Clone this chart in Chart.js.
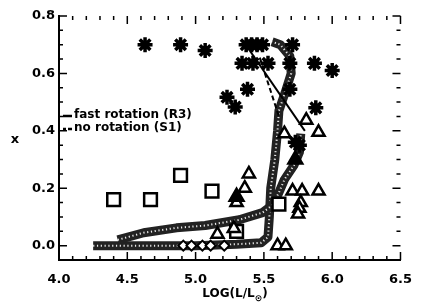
<!DOCTYPE html>
<html>
<head>
<meta charset="utf-8">
<script src="https://cdn.jsdelivr.net/npm/chart.js@4.4.1/dist/chart.umd.min.js"></script>
<style>
  html, body { margin: 0; padding: 0; background: #fff; }
  #wrap { width: 424px; height: 305px; }
</style>
</head>
<body>
<div id="wrap"><canvas id="grafico" width="424" height="305"></canvas></div>
<script>
// tick labels
const xTicks = [4.0, 4.5, 5.0, 5.5, 6.0, 6.5]
const yTicks = [0.0, 0.2, 0.4, 0.6, 0.8]

// asterisks
const estrellas = [
  {x: 4.63, y: 0.70}, {x: 4.89, y: 0.70}, {x: 5.07, y: 0.68},
  {x: 5.37, y: 0.70}, {x: 5.41, y: 0.70}, {x: 5.45, y: 0.70}, {x: 5.49, y: 0.70},
  {x: 5.71, y: 0.70},
  {x: 5.34, y: 0.635}, {x: 5.42, y: 0.635}, {x: 5.53, y: 0.635}, {x: 5.69, y: 0.635},
  {x: 5.87, y: 0.635}, {x: 6.00, y: 0.61},
  {x: 5.38, y: 0.545}, {x: 5.69, y: 0.545}, {x: 5.23, y: 0.517}, {x: 5.29, y: 0.483},
  {x: 5.88, y: 0.48}, {x: 5.73, y: 0.36}, {x: 5.76, y: 0.35}
]

// open triangles
const triangulos = [
  {x: 5.81, y: 0.437}, {x: 5.90, y: 0.395}, {x: 5.65, y: 0.39},
  {x: 5.39, y: 0.25}, {x: 5.36, y: 0.20}, {x: 5.30, y: 0.15},
  {x: 5.71, y: 0.19}, {x: 5.78, y: 0.19}, {x: 5.90, y: 0.19},
  {x: 5.77, y: 0.15}, {x: 5.76, y: 0.13}, {x: 5.75, y: 0.11},
  {x: 5.28, y: 0.06}, {x: 5.16, y: 0.04},
  {x: 5.60, y: 0.0}, {x: 5.66, y: 0.0}
]

// filled triangles
const triangulosLlenos = [
  {x: 5.73, y: 0.30}, {x: 5.30, y: 0.17}
]

// open squares
const cuadrados = [
  {x: 4.40, y: 0.16}, {x: 4.67, y: 0.16}, {x: 4.89, y: 0.245},
  {x: 5.12, y: 0.19}, {x: 5.30, y: 0.05}, {x: 5.61, y: 0.145}
]

// small diamonds on the zero line
const rombos = [
  {x: 4.91, y: 0.0}, {x: 4.97, y: 0.0}, {x: 5.05, y: 0.0},
  {x: 5.11, y: 0.0}, {x: 5.21, y: 0.0}
]

// thick dotted tracks
const trazaBaja = [
  {x: 4.25, y: 0.0}, {x: 4.6, y: 0.0}, {x: 5.0, y: 0.0}, {x: 5.3, y: 0.005},
  {x: 5.48, y: 0.01}, {x: 5.53, y: 0.03}, {x: 5.54, y: 0.1}, {x: 5.55, y: 0.2},
  {x: 5.58, y: 0.3}, {x: 5.60, y: 0.40}, {x: 5.61, y: 0.47}, {x: 5.66, y: 0.54},
  {x: 5.70, y: 0.60}, {x: 5.69, y: 0.66}, {x: 5.62, y: 0.70}, {x: 5.56, y: 0.71}
]
const trazaAlta = [
  {x: 4.43, y: 0.02}, {x: 4.62, y: 0.045}, {x: 4.86, y: 0.062}, {x: 5.07, y: 0.07},
  {x: 5.32, y: 0.09}, {x: 5.49, y: 0.115}, {x: 5.56, y: 0.14}, {x: 5.61, y: 0.185},
  {x: 5.65, y: 0.23}, {x: 5.72, y: 0.28}, {x: 5.76, y: 0.325}, {x: 5.77, y: 0.39}
]

// thin model lines
const rotacionRapida = [{x: 5.36, y: 0.705}, {x: 5.80, y: 0.40}]
const sinRotacion = [{x: 5.47, y: 0.655}, {x: 5.61, y: 0.45}]

const fuente = '"DejaVu Sans", "Liberation Sans", sans-serif'

// IDL-style inward ticks on all four sides, legend and axis titles
const decoraciones = {
  id: 'decoraciones',
  afterDraw(chart) {
    const c = chart.ctx
    const a = chart.chartArea
    const sx = chart.scales.x
    const sy = chart.scales.y
    c.save()
    c.strokeStyle = '#000'
    c.lineWidth = 1.5
    for (let i = 0; i <= 25; i++) {
      const v = 4 + i * 0.1
      const px = sx.getPixelForValue(v)
      const len = (i % 5 === 0) ? 8 : 4
      c.beginPath()
      c.moveTo(px, a.bottom); c.lineTo(px, a.bottom - len)
      c.moveTo(px, a.top); c.lineTo(px, a.top + len)
      c.stroke()
    }
    for (let i = -1; i <= 16; i++) {
      const v = i * 0.05
      const py = sy.getPixelForValue(v)
      const len = (i % 4 === 0) ? 8 : 4
      c.beginPath()
      c.moveTo(a.left, py); c.lineTo(a.left + len, py)
      c.moveTo(a.right, py); c.lineTo(a.right - len, py)
      c.stroke()
    }

    // legend
    c.fillStyle = '#000'
    c.font = 'bold 12px ' + fuente
    c.textBaseline = 'middle'
    c.lineWidth = 2.5
    c.beginPath(); c.moveTo(63, 116); c.lineTo(72, 116); c.stroke()
    c.fillText('fast rotation (R3)', 74, 115)
    c.beginPath()
    c.moveTo(63, 129); c.lineTo(66, 129)
    c.moveTo(68, 129); c.lineTo(72, 129)
    c.stroke()
    c.fillText('no rotation (S1)', 74, 128)

    // y title
    c.font = 'bold 13px ' + fuente
    c.textAlign = 'center'
    c.fillText('x', 15, 140)

    // x title with subscript sun
    c.font = 'bold 12px ' + fuente
    c.textAlign = 'left'
    c.textBaseline = 'alphabetic'
    const p1 = 'LOG(L/L'
    const w1 = c.measureText(p1).width
    c.font = 'bold 9px ' + fuente
    const w2 = c.measureText('⊙').width
    c.font = 'bold 12px ' + fuente
    const w3 = c.measureText(')').width
    let x0 = 235 - (w1 + w2 + w3) / 2
    c.fillText(p1, x0, 297)
    c.font = 'bold 9px ' + fuente
    c.fillText('⊙', x0 + w1, 301)
    c.font = 'bold 12px ' + fuente
    c.fillText(')', x0 + w1 + w2, 297)
    c.restore()
  }
}

function marca(datos, estilo, radio, relleno, grosor, orden) {
  return {
    type: 'scatter',
    data: datos,
    order: orden,
    pointStyle: estilo,
    pointRadius: radio,
    pointBackgroundColor: relleno,
    pointBorderColor: '#000',
    pointBorderWidth: grosor,
    showLine: false
  }
}

function traza(datos, color, ancho, guion, orden) {
  return {
    type: 'line',
    data: datos,
    order: orden,
    borderColor: color,
    borderWidth: ancho,
    borderDash: guion,
    pointRadius: 0,
    tension: 0,
    borderJoinStyle: 'round',
    borderCapStyle: 'butt',
    fill: false
  }
}

const ctx = document.getElementById('grafico')

// lower order is painted on top
new Chart(ctx, {
  data: {
    datasets: [
      traza(trazaBaja, '#222', 9, [], 10),
      traza(trazaBaja, 'rgba(255,255,255,0.9)', 2, [1.2, 2.6], 9),
      traza(trazaAlta, '#222', 9, [], 8),
      traza(trazaAlta, 'rgba(255,255,255,0.9)', 2, [1.2, 2.6], 7),
      traza(rotacionRapida, '#000', 2, [], 6),
      traza(sinRotacion, '#000', 2, [5, 3], 5),
      marca(rombos, 'rectRot', 5, '#fff', 2, 4),
      marca(cuadrados, 'rect', 9, '#fff', 2.5, 3),
      marca(triangulos, 'triangle', 7, '#fff', 2.5, 2),
      marca(triangulosLlenos, 'triangle', 8, '#000', 2.5, 1),
      marca(estrellas, 'star', 7.5, '#000', 3.5, 0)
    ]
  },
  options: {
    responsive: false,
    animation: false,
    layout: { padding: { top: 16, right: 13, left: 0, bottom: 0 } },
    plugins: {
      legend: { display: false },
      tooltip: { enabled: false }
    },
    scales: {
      x: {
        type: 'linear',
        min: 4.0,
        max: 6.5,
        afterBuildTicks: s => { s.ticks = xTicks.map(v => ({ value: v })) },
        afterFit: s => { s.height = 45 },
        grid: { display: false, drawTicks: false },
        border: { display: true, color: '#000', width: 2 },
        ticks: {
          padding: 12,
          color: '#000',
          font: { family: fuente, size: 13, weight: 'bold' },
          callback: v => v.toFixed(1),
          maxRotation: 0
        }
      },
      y: {
        type: 'linear',
        min: -0.05,
        max: 0.8,
        afterBuildTicks: s => { s.ticks = yTicks.map(v => ({ value: v })) },
        afterFit: s => { s.width = 59 },
        grid: { display: false, drawTicks: false },
        border: { display: true, color: '#000', width: 2 },
        ticks: {
          padding: 4,
          color: '#000',
          font: { family: fuente, size: 13, weight: 'bold' },
          callback: v => v.toFixed(1)
        }
      }
    }
  },
  plugins: [decoraciones]
})
</script>
</body>
</html>
